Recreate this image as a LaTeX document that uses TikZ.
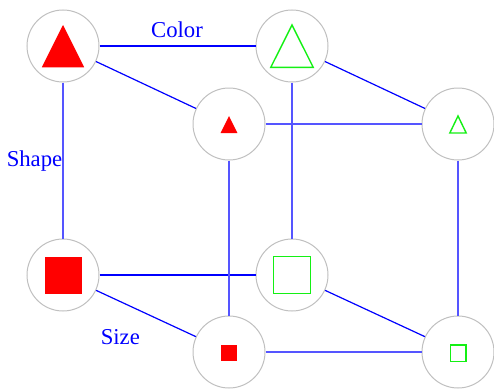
\documentclass[tikz,border=0pt]{standalone}
\usepackage{fontspec}
\setmainfont{Liberation Serif}
\usetikzlibrary{calc}
\definecolor{ringgray}{RGB}{192,192,192}
\definecolor{backblue}{RGB}{85,85,255}
\definecolor{shapegreen}{RGB}{20,240,20}
\begin{document}
\begin{tikzpicture}[x=1pt,y=-1pt,
  circ/.style={circle,draw=ringgray,line width=1pt,fill=white,minimum size=72pt,inner sep=0pt},
  front/.style={draw=blue,line width=1.2pt},
  back/.style={draw=backblue,line width=1.8pt},
  lbl/.style={text=blue,font=\fontsize{22.7}{27}\selectfont,anchor=base,inner sep=0pt},
  gline/.style={draw=shapegreen,line width=1.4pt}
]
\useasboundingbox (0,0) rectangle (494,388);
% circles
\node[circ] (A) at (63,46) {};
\node[circ] (B) at (292,46) {};
\node[circ] (C) at (229,124) {};
\node[circ] (D) at (458,124) {};
\node[circ] (E) at (63,275) {};
\node[circ] (F) at (292,275) {};
\node[circ] (G) at (229,352) {};
\node[circ] (H) at (458,352) {};
% connectors
\draw[front] (A) -- (B);
\draw[front] (A) -- (C);
\draw[front] (B) -- (D);
\draw[front] (E) -- (F);
\draw[front] (E) -- (G);
\draw[front] (F) -- (H);
\draw[back] (A) -- (E);
\draw[back] (B) -- (F);
\draw[back] (C) -- (G);
\draw[back] (D) -- (H);
\draw[back] (C) -- (D);
\draw[back] (G) -- (H);
% labels
\node[lbl] (color) at (177,37) {Color};
\node[lbl] (shape) at (34.5,166) {Shape};
\node[lbl] (size) at (120.3,344) {Size};
% shapes
\fill[red] ($(A)+(0,-21)$) -- ($(A)+(21.2,21.3)$) -- ($(A)+(-21.2,21.3)$) -- cycle;
\draw[gline] ($(B)+(0,-21)$) -- ($(B)+(21.2,21.3)$) -- ($(B)+(-21.2,21.3)$) -- cycle;
\fill[red] ($(C)+(0,-8)$) -- ($(C)+(8.4,9)$) -- ($(C)+(-8.4,9)$) -- cycle;
\draw[gline] ($(D)+(0,-8)$) -- ($(D)+(8.2,9)$) -- ($(D)+(-8.2,9)$) -- cycle;
\fill[red] ($(E)+(-18.5,-18.5)$) rectangle ($(E)+(18.5,18.5)$);
\draw[gline] ($(F)+(-18.3,-18.3)$) rectangle ($(F)+(18.3,18.3)$);
\fill[red] ($(G)+(-8.3,-7.3)$) rectangle ($(G)+(8.3,9.3)$);
\draw[gline] ($(H)+(-7.8,-7)$) rectangle ($(H)+(7.8,9.3)$);
\end{tikzpicture}
\end{document}
